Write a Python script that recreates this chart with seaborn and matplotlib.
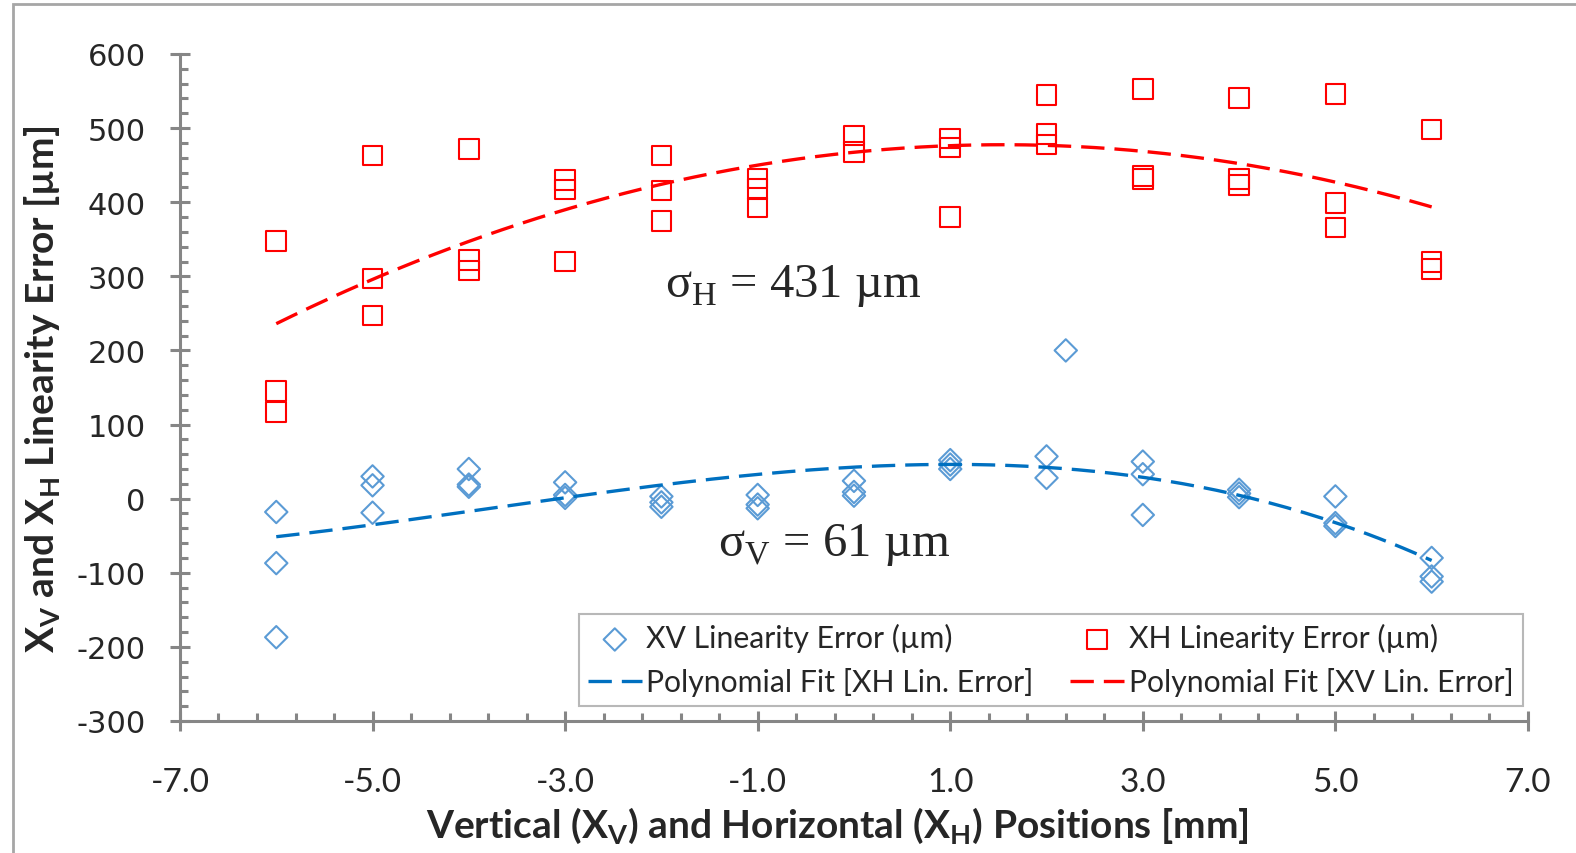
import numpy as np
import pandas as pd
import matplotlib
matplotlib.use("Agg")
import matplotlib.pyplot as plt
from matplotlib.patches import Rectangle
from matplotlib.ticker import FixedLocator, FormatStrFormatter
import seaborn as sns

# Vertical (XV) linearity error per scan position
xv_pos = [-6, -6, -6, -5, -5, -5, -4, -4, -4, -3, -3, -3, -2, -2, -2,
          -1, -1, -1, 0, 0, 0, 1, 1, 1, 2, 2, 2.2, 3, 3, 3, 4, 4, 4,
          5, 5, 5, 6, 6, 6]
xv_err = [-18, -87, -187, 30, 18, -19, 40, 19, 16, 22, 5, 1, 3, -5, -11,
          5, -8, -13, 24, 9, 4, 52, 46, 40, 57, 28, 200, 50, 33, -22, 12, 7, 2,
          3, -33, -37, -80, -105, -112]

# Horizontal (XH) linearity error per scan position
xh_pos = [-6, -6, -6, -5, -5, -5, -4, -4, -4, -3, -3, -3, -2, -2, -2,
          -1, -1, -1, 0, 0, 1, 1, 1, 2, 2, 2, 3, 3, 3, 4, 4, 4,
          5, 5, 5, 6, 6, 6]
xh_err = [348, 145, 117, 463, 297, 247, 472, 322, 308, 430, 417, 320, 463, 416, 375,
          432, 418, 393, 490, 468, 486, 474, 380, 545, 492, 478, 553, 435, 431, 541, 431, 423,
          546, 399, 366, 498, 319, 310]

legend_labels = ["XV Linearity Error (\u00b5m)", "Polynomial Fit [XH Lin. Error]",
                 "XH Linearity Error (\u00b5m)", "Polynomial Fit [XV Lin. Error]"]
x_major_ticks = [-7, -5, -3, -1, 1, 3, 5, 7]
y_major_ticks = [-300, -200, -100, 0, 100, 200, 300, 400, 500, 600]
sigma_h_text = "\u03c3$_\\mathregular{H}$ = 431 \u00b5m"
sigma_v_text = "\u03c3$_\\mathregular{V}$ = 61 \u00b5m"

BLUE_MK = "#5B9BD5"
BLUE_LN = "#0070C0"
RED = "#FF0000"
AXIS_GREY = "#868686"

sns.set_style("white")
plt.rcParams["font.family"] = ["Lato", "DejaVu Sans"]
plt.rcParams["axes.unicode_minus"] = False

fig = plt.figure(figsize=(15.76, 8.54), dpi=100)
ax = fig.add_axes([0.1142, 0.1546, 0.8553, 0.7810])

xv_df = pd.DataFrame({"pos": xv_pos, "err": xv_err})
xh_df = pd.DataFrame({"pos": xh_pos, "err": xh_err})

# Polynomial trend lines fitted to the measurements
grid = np.linspace(min(xh_pos), max(xh_pos), 200)
xv_fit = np.polyval(np.polyfit(xv_pos, xv_err, 3), grid)
xh_fit = np.polyval(np.polyfit(xh_pos, xh_err, 2), grid)

sns.scatterplot(data=xv_df, x="pos", y="err", ax=ax, marker="D", s=130,
                color=BLUE_MK, facecolor="none", edgecolor=BLUE_MK,
                linewidth=1.5, label=legend_labels[0], zorder=3)
sns.scatterplot(data=xh_df, x="pos", y="err", ax=ax, marker="s", s=200,
                color=RED, facecolor="none", edgecolor=RED,
                linewidth=1.5, label=legend_labels[2], zorder=3)
sns.lineplot(x=grid, y=xv_fit, ax=ax, color=BLUE_LN, lw=2.4,
             linestyle=(0, (7, 3)), label=legend_labels[1], zorder=4)
sns.lineplot(x=grid, y=xh_fit, ax=ax, color=RED, lw=2.4,
             linestyle=(0, (7, 3)), label=legend_labels[3], zorder=4)

ax.set_xlim(-7, 7)
ax.set_ylim(-300, 600)
ax.xaxis.set_major_locator(FixedLocator(x_major_ticks))
ax.xaxis.set_minor_locator(FixedLocator(np.arange(-7, 7.01, 0.4)))
ax.yaxis.set_major_locator(FixedLocator(y_major_ticks))
ax.yaxis.set_minor_locator(FixedLocator(np.arange(-300, 601, 20)))
ax.xaxis.set_major_formatter(FormatStrFormatter("%.1f"))

for side in ["top", "right"]:
    ax.spines[side].set_visible(False)
for side in ["left", "bottom"]:
    ax.spines[side].set_color(AXIS_GREY)
    ax.spines[side].set_linewidth(2.2)

ax.tick_params(which="both", bottom=True, left=True, top=False, right=False)
ax.tick_params(which="major", direction="inout", length=14.4, width=2.2,
               color=AXIS_GREY)
ax.tick_params(which="minor", direction="in", length=5.8, width=2.2,
               color=AXIS_GREY)
ax.tick_params(axis="y", which="major", pad=17.5)
ax.tick_params(axis="x", which="major", pad=26)
for lab in ax.get_yticklabels():
    lab.set_fontfamily("DejaVu Sans")
    lab.set_fontsize(22)
for lab in ax.get_xticklabels():
    lab.set_fontfamily("Lato")
    lab.set_fontsize(24)

ax.set_xlabel("Vertical (X$_\\mathregular{V}$) and Horizontal (X$_\\mathregular{H}$) Positions [mm]",
              fontsize=28, fontweight="bold")
ax.set_ylabel("X$_\\mathregular{V}$ and X$_\\mathregular{H}$ Linearity Error [\u00b5m]",
              fontsize=28, fontweight="bold")
ax.xaxis.set_label_coords(0.488, -0.155)
ax.xaxis.label.set_va("center")
ax.yaxis.set_label_coords(-0.102, 0.499)
ax.yaxis.label.set_va("center")

ax.text(-1.96, 273, sigma_h_text, fontsize=35, va="baseline", ha="left",
        family=["Liberation Serif", "DejaVu Serif"])
ax.text(-1.41, -76, sigma_v_text, fontsize=35, va="baseline", ha="left",
        family=["Liberation Serif", "DejaVu Serif"])

handles, labels = ax.get_legend_handles_labels()
lookup = dict(zip(labels, handles))
leg = ax.legend([lookup[l] for l in legend_labels], legend_labels, ncol=2,
                loc="upper right", bbox_to_anchor=(0.996, 0.160),
                fontsize=21.7, frameon=True, fancybox=False, handlelength=1.8,
                handletextpad=0.15, columnspacing=1.2, borderpad=0.3,
                labelspacing=0.5, borderaxespad=0)
leg.get_frame().set_edgecolor("#A6A6A6")
leg.get_frame().set_linewidth(1.5)

# Outer chart border
fig.patches.append(Rectangle((13 / 1576, -0.05), 1.1, 1 - 5 / 854 + 0.05,
                             transform=fig.transFigure, fill=False,
                             edgecolor="#A6A6A6", linewidth=2, zorder=0))

fig.savefig("out.png", dpi=100)
